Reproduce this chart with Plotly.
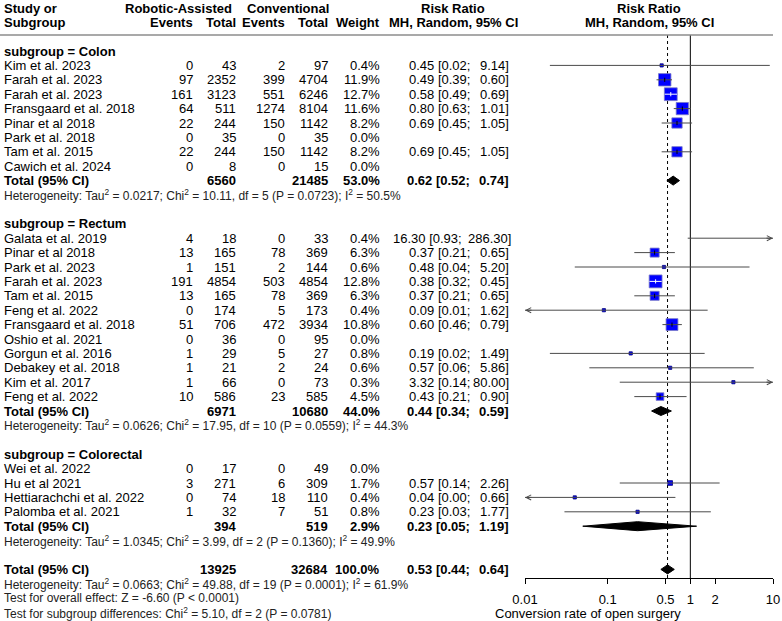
import numpy as np
import plotly.graph_objects as go

# ---------------- data ----------------
colon_study = ["Kim et al. 2023", "Farah et al. 2023", "Farah et al. 2023", "Fransgaard et al. 2018",
               "Pinar et al 2018", "Park et al. 2018", "Tam et al. 2015", "Cawich et al. 2024"]
colon_rob_events = [0, 97, 161, 64, 22, 0, 22, 0]
colon_rob_total = [43, 2352, 3123, 511, 244, 35, 244, 8]
colon_con_events = [2, 399, 551, 1274, 150, 0, 150, 0]
colon_con_total = [97, 4704, 6246, 8104, 1142, 35, 1142, 15]
colon_weight = [0.4, 11.9, 12.7, 11.6, 8.2, 0.0, 8.2, 0.0]
colon_rr = [0.45, 0.49, 0.58, 0.80, 0.69, None, 0.69, None]
colon_lo = [0.02, 0.39, 0.49, 0.63, 0.45, None, 0.45, None]
colon_hi = [9.14, 0.60, 0.69, 1.01, 1.05, None, 1.05, None]

rectum_study = ["Galata et al. 2019", "Pinar et al 2018", "Park et al. 2023", "Farah et al. 2023",
                "Tam et al. 2015", "Feng et al. 2022", "Fransgaard et al. 2018", "Oshio et al. 2021",
                "Gorgun et al. 2016", "Debakey et al. 2018", "Kim et al. 2017", "Feng et al. 2022"]
rectum_rob_events = [4, 13, 1, 191, 13, 0, 51, 0, 1, 1, 1, 10]
rectum_rob_total = [18, 165, 151, 4854, 165, 174, 706, 36, 29, 21, 66, 586]
rectum_con_events = [0, 78, 2, 503, 78, 5, 472, 0, 5, 2, 0, 23]
rectum_con_total = [33, 369, 144, 4854, 369, 173, 3934, 95, 27, 24, 73, 585]
rectum_weight = [0.4, 6.3, 0.6, 12.8, 6.3, 0.4, 10.8, 0.0, 0.8, 0.6, 0.3, 4.5]
rectum_rr = [16.30, 0.37, 0.48, 0.38, 0.37, 0.09, 0.60, None, 0.19, 0.57, 3.32, 0.43]
rectum_lo = [0.93, 0.21, 0.04, 0.32, 0.21, 0.01, 0.46, None, 0.02, 0.06, 0.14, 0.21]
rectum_hi = [286.30, 0.65, 5.20, 0.45, 0.65, 1.62, 0.79, None, 1.49, 5.86, 80.00, 0.90]

crc_study = ["Wei et al. 2022", "Hu et al 2021", "Hettiarachchi et al. 2022", "Palomba et al. 2021"]
crc_rob_events = [0, 3, 0, 1]
crc_rob_total = [17, 271, 74, 32]
crc_con_events = [0, 6, 18, 7]
crc_con_total = [49, 309, 110, 51]
crc_weight = [0.0, 1.7, 0.4, 0.8]
crc_rr = [None, 0.57, 0.04, 0.23]
crc_lo = [None, 0.14, 0.00, 0.03]
crc_hi = [None, 2.26, 0.66, 1.77]

subgroup_names = ["Colon", "Rectum", "Colorectal"]
subgroup_rob_total = [6560, 6971, 394]
subgroup_con_total = [21485, 10680, 519]
subgroup_weight = [53.0, 44.0, 2.9]
subgroup_rr = [0.62, 0.44, 0.23]
subgroup_lo = [0.52, 0.34, 0.05]
subgroup_hi = [0.74, 0.59, 1.19]
subgroup_het = [
    "Heterogeneity: Tau<sup>2</sup> = 0.0217; Chi<sup>2</sup> = 10.11, df = 5 (P = 0.0723); I<sup>2</sup> = 50.5%",
    "Heterogeneity: Tau<sup>2</sup> = 0.0626; Chi<sup>2</sup> = 17.95, df = 10 (P = 0.0559); I<sup>2</sup> = 44.3%",
    "Heterogeneity: Tau<sup>2</sup> = 1.0345; Chi<sup>2</sup> = 3.99, df = 2 (P = 0.1360); I<sup>2</sup> = 49.9%",
]

overall_rob_total = 13925
overall_con_total = 32684
overall_weight = 100.0
overall_rr = 0.53
overall_lo = 0.44
overall_hi = 0.64
overall_notes = [
    "Heterogeneity: Tau<sup>2</sup> = 0.0663; Chi<sup>2</sup> = 49.88, df = 19 (P = 0.0001); I<sup>2</sup> = 61.9%",
    "Test for overall effect: Z = -6.60 (P &lt; 0.0001)",
    "Test for subgroup differences: Chi<sup>2</sup> = 5.10, df = 2 (P = 0.0781)",
]

tick_vals = [0.01, 0.1, 0.5, 1, 2, 10]
tick_text = ["0.01", "0.1", "0.5", "1", "2", "10"]
axis_title = "Conversion rate of open surgery"

groups = [
    (colon_study, colon_rob_events, colon_rob_total, colon_con_events, colon_con_total, colon_weight, colon_rr, colon_lo, colon_hi),
    (rectum_study, rectum_rob_events, rectum_rob_total, rectum_con_events, rectum_con_total, rectum_weight, rectum_rr, rectum_lo, rectum_hi),
    (crc_study, crc_rob_events, crc_rob_total, crc_con_events, crc_con_total, crc_weight, crc_rr, crc_lo, crc_hi),
]

# ---------------- layout constants ----------------
W, H = 782, 621
FONT = "Liberation Sans, Arial, Helvetica, sans-serif"
Y0, DY = 51, 14.4
X_NAME, X_RE, X_RT, X_CE, X_CT, X_W, X_CI1, X_CI2 = 2, 195, 238, 287, 330, 382, 472, 511
AX_L, AX_R, AX_Y = 525, 773, 578
PX_PER_DEC = (AX_R - AX_L) / 3.0
XMIN, XMAX = 0.01, 10


def ry(i):
    return Y0 + DY * i


ann = []


def txt(x, y, s, anchor="left", bold=False, size=13, color="black"):
    ann.append(dict(x=x, y=y, xref="x", yref="y", text=f"<b>{s}</b>" if bold else s,
                    showarrow=False, xanchor=anchor, yanchor="middle",
                    font=dict(size=size, color=color, family=FONT)))


def ci_text(y, rr, lo, hi, bold=False):
    wide = hi >= 100
    txt(X_CI1 - (8 if wide else 0), y, f"{rr:.2f} [{lo:.2f};", "right", bold)
    txt(X_CI2 + (2 if wide else 0), y, f"{hi:.2f}]", "right", bold)


# header
txt(X_NAME, 8, "Study or", bold=True)
txt(X_NAME, 22, "Subgroup", bold=True)
txt((125 + 232) / 2, 8, "Robotic-Assisted", "center", True)
txt(X_RE, 22, "Events", "right", True)
txt(X_RT, 22, "Total", "right", True)
txt((247 + 328) / 2, 8, "Conventional", "center", True)
txt(X_CE, 22, "Events", "right", True)
txt(X_CT, 22, "Total", "right", True)
txt(X_W, 22, "Weight", "right", True)
txt(453, 8, "Risk Ratio", "center", True)
txt(453, 22, "MH, Random, 95% CI", "center", True)
txt(649, 8, "Risk Ratio", "center", True)
txt(649, 22, "MH, Random, 95% CI", "center", True)

sq_x, sq_y, sq_s, sq_lc = [], [], [], []
dark_x, dark_y, white_x, white_y = [], [], [], []
tick_dark_x, tick_dark_y, tick_white_x, tick_white_y = [], [], [], []
dia_traces = []
arrows = []

row = 0
for g, (names, re_, rt, ce, ct, wt, rr, lo, hi) in enumerate(groups):
    txt(X_NAME, ry(row), f"subgroup = {subgroup_names[g]}", bold=True)
    row += 1
    for k in range(len(names)):
        y = ry(row)
        txt(X_NAME, y, names[k])
        txt(X_RE, y, str(re_[k]), "right")
        txt(X_RT, y, str(rt[k]), "right")
        txt(X_CE, y, str(ce[k]), "right")
        txt(X_CT, y, str(ct[k]), "right")
        txt(X_W, y, f"{wt[k]:.1f}%", "right")
        if rr[k] is not None:
            ci_text(y, rr[k], lo[k], hi[k])
            size = 3.6 * np.sqrt(wt[k])
            sq_x.append(rr[k]); sq_y.append(y); sq_s.append(max(size, 3.2))
            sq_lc.append("#7878c8" if size > 6 else "#00007a")
            l = max(lo[k], XMIN); h = min(hi[k], XMAX)
            span = PX_PER_DEC * (np.log10(h) - np.log10(l))
            if span < size:
                white_x += [l, h, None]; white_y += [y, y, None]
                tick_white_x.append(rr[k]); tick_white_y.append(y)
            else:
                dark_x += [l, h, None]; dark_y += [y, y, None]
                if size > 5 and XMIN < rr[k] < XMAX:
                    tick_dark_x.append(rr[k]); tick_dark_y.append(y)
            if lo[k] <= XMIN:
                arrows.append((XMIN, y, 8))
            if hi[k] > XMAX:
                arrows.append((XMAX, y, -8))
        row += 1
    y = ry(row)
    txt(X_NAME, y, "Total (95% CI)", bold=True)
    txt(X_RT, y, str(subgroup_rob_total[g]), "right", True)
    txt(X_CT, y, str(subgroup_con_total[g]), "right", True)
    txt(X_W, y, f"{subgroup_weight[g]:.1f}%", "right", True)
    ci_text(y, subgroup_rr[g], subgroup_lo[g], subgroup_hi[g], True)
    dia_traces.append((subgroup_lo[g], subgroup_rr[g], subgroup_hi[g], y))
    row += 1
    txt(X_NAME, ry(row), subgroup_het[g], size=12, color="#222")
    row += 2

y = ry(row)
txt(X_NAME, y, "Total (95% CI)", bold=True)
txt(X_RT, y, str(overall_rob_total), "right", True)
txt(X_CT, y, str(overall_con_total), "right", True)
txt(X_W, y, f"{overall_weight:.1f}%", "right", True)
ci_text(y, overall_rr, overall_lo, overall_hi, True)
dia_traces.append((overall_lo, overall_rr, overall_hi, y))
row += 1
for note in overall_notes:
    txt(X_NAME, ry(row), note, size=12, color="#222")
    row += 1

# axis title
txt(588, 613, axis_title, "center", size=13)

fig = go.Figure()
LINE_COL = "#4a4a4a"
# reference lines
fig.add_trace(go.Scatter(x=[1, 1], y=[35, AX_Y], xaxis="x2", yaxis="y", mode="lines",
                         line=dict(color="black", width=1), hoverinfo="skip", showlegend=False))
fig.add_trace(go.Scatter(x=[overall_rr, overall_rr], y=[35, AX_Y], xaxis="x2", yaxis="y", mode="lines",
                         line=dict(color="black", width=1, dash="dot"), hoverinfo="skip", showlegend=False))
# squares
fig.add_trace(go.Scatter(x=sq_x, y=sq_y, xaxis="x2", yaxis="y", mode="markers",
                         marker=dict(symbol="square", size=sq_s, color="#0000ff", opacity=1,
                                     line=dict(color=sq_lc, width=0.8)),
                         hoverinfo="skip", showlegend=False))
# CI lines
fig.add_trace(go.Scatter(x=dark_x, y=dark_y, xaxis="x2", yaxis="y", mode="lines",
                         line=dict(color=LINE_COL, width=1), hoverinfo="skip", showlegend=False))
fig.add_trace(go.Scatter(x=white_x, y=white_y, xaxis="x2", yaxis="y", mode="lines",
                         line=dict(color="white", width=1), hoverinfo="skip", showlegend=False))
fig.add_trace(go.Scatter(x=tick_dark_x, y=tick_dark_y, xaxis="x2", yaxis="y", mode="markers",
                         marker=dict(symbol="line-ns", size=3, line=dict(color="black", width=1)),
                         hoverinfo="skip", showlegend=False))
fig.add_trace(go.Scatter(x=tick_white_x, y=tick_white_y, xaxis="x2", yaxis="y", mode="markers",
                         marker=dict(symbol="line-ns", size=3, line=dict(color="white", width=1)),
                         hoverinfo="skip", showlegend=False))
# diamonds
HD = 4.5
for lo_, rr_, hi_, y in dia_traces:
    fig.add_trace(go.Scatter(x=[lo_, rr_, hi_, rr_, lo_], y=[y, y - HD, y, y + HD, y],
                             xaxis="x2", yaxis="y", mode="lines", fill="toself",
                             fillcolor="black", line=dict(color="black", width=1),
                             hoverinfo="skip", showlegend=False))
# arrows at clipped CI ends
for xv, y, off in arrows:
    ann.append(dict(x=np.log10(xv), y=y, xref="x2", yref="y", ax=off, ay=0,
                    axref="pixel", ayref="pixel", showarrow=True, text="",
                    arrowhead=5, arrowsize=1, arrowwidth=1, arrowcolor=LINE_COL))

shapes = [dict(type="line", xref="x", yref="y", x0=0, x1=AX_R, y0=35, y1=35,
               line=dict(color="#8c8c8c", width=1.5))]

fig.update_layout(
    width=W, height=H, autosize=False,
    margin=dict(l=0, r=0, t=0, b=0, pad=0, autoexpand=False),
    paper_bgcolor="white", plot_bgcolor="rgba(0,0,0,0)",
    font=dict(family=FONT, size=13, color="black"),
    xaxis=dict(range=[0, W], domain=[0, 1], visible=False, fixedrange=True, automargin=False),
    yaxis=dict(range=[H, 0], domain=[0, 1], visible=False, fixedrange=True, automargin=False),
    xaxis2=dict(type="log", range=[np.log10(XMIN), np.log10(XMAX)],
                domain=[AX_L / W, AX_R / W], anchor="free", position=(H - AX_Y) / H,
                tickvals=tick_vals, ticktext=tick_text, ticks="outside", ticklen=5,
                tickcolor="black", showline=True, linecolor="black", linewidth=1,
                showgrid=False, zeroline=False, tickfont=dict(size=13, family=FONT),
                ticklabelstandoff=4, fixedrange=True, automargin=False),
    annotations=ann, shapes=shapes, showlegend=False,
)

fig.write_html("out.html")
